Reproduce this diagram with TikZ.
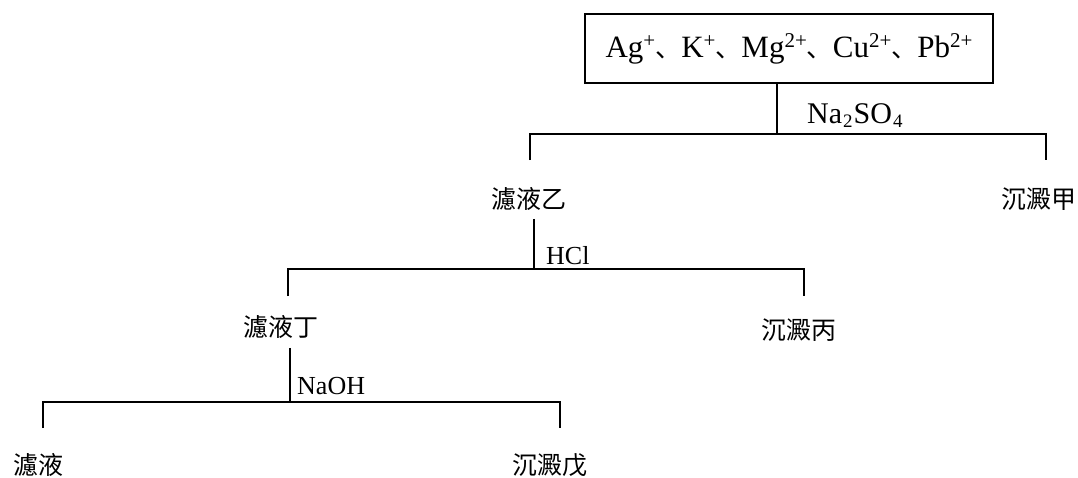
\documentclass[tikz,border=0pt]{standalone}
\usepackage{fontspec}
\setmainfont{Liberation Serif}
\newfontfamily\cjk{Noto Sans CJK TC}
\newfontfamily\cjkjp{Noto Sans CJK JP}
\newcommand\ionsup[1]{\raisebox{10pt}{\fontsize{21}{21}\selectfont #1}}
\newcommand\ionsub[1]{\hspace{1pt}\raisebox{-4.5pt}{\fontsize{19}{19}\selectfont #1}\hspace{1pt}}
\newcommand\dun{{\cjkjp\fontsize{26}{26}\selectfont 、}}
\begin{document}
\begin{tikzpicture}[x=1pt,y=-1pt,
  line/.style={line width=1.6pt},
  zh/.style={inner sep=0pt,font=\cjk\fontsize{25}{25}\selectfont},
  reag/.style={inner sep=0pt,anchor=base west,font=\fontsize{26}{26}\selectfont},
  ionbox/.style={draw,line width=1.6pt,inner sep=0pt,minimum width=408pt,minimum height=69pt,font=\fontsize{31}{31}\selectfont}]
\useasboundingbox (0,0) rectangle (1078,477);
% top box
\node[ionbox] (ions) at (789,48.5) {Ag\ionsup{+}\dun K\ionsup{+}\dun Mg\ionsup{2+}\dun Cu\ionsup{2+}\dun Pb\ionsup{2+}};
% level 1
\coordinate (s1) at (777,83);
\coordinate (b1) at (777,134);
\coordinate (l1) at (530,134);
\coordinate (r1) at (1046,134);
\coordinate (l1e) at (530,160);
\coordinate (r1e) at (1046,160);
\node[reag,font=\fontsize{30}{30}\selectfont] (na2so4) at (807,123) {Na\ionsub{2}SO\ionsub{4}};
\node[zh] (yi) at (529,199) {濾液乙};
\node[zh] (jia) at (1039,199) {沉澱甲};
% level 2
\coordinate (s2) at (534,218);
\coordinate (b2) at (534,269);
\coordinate (l2) at (288,269);
\coordinate (r2) at (804,269);
\coordinate (l2e) at (288,296);
\coordinate (r2e) at (804,296);
\node[reag] (hcl) at (546,264) {HCl};
\node[zh] (ding) at (281,327) {濾液丁};
\node[zh] (bing) at (799,330) {沉澱丙};
% level 3
\coordinate (s3) at (290,349);
\coordinate (b3) at (290,402);
\coordinate (l3) at (43,402);
\coordinate (r3) at (560,402);
\coordinate (l3e) at (43,428);
\coordinate (r3e) at (560,428);
\node[reag] (naoh) at (297,394) {NaOH};
\node[zh] (lvye) at (38,465) {濾液};
\node[zh] (wu) at (550,465) {沉澱戊};
% connectors
\draw[line] (ions.south -| s1) -- (b1);
\draw[line] (l1e) -- (l1) -- (r1) -- (r1e);
\draw[line] (yi.south -| s2) ++(0,8) -- (b2);
\draw[line] (l2e) -- (l2) -- (r2) -- (r2e);
\draw[line] (ding.south -| s3) ++(0,9) -- (b3);
\draw[line] (l3e) -- (l3) -- (r3) -- (r3e);
\end{tikzpicture}
\end{document}
